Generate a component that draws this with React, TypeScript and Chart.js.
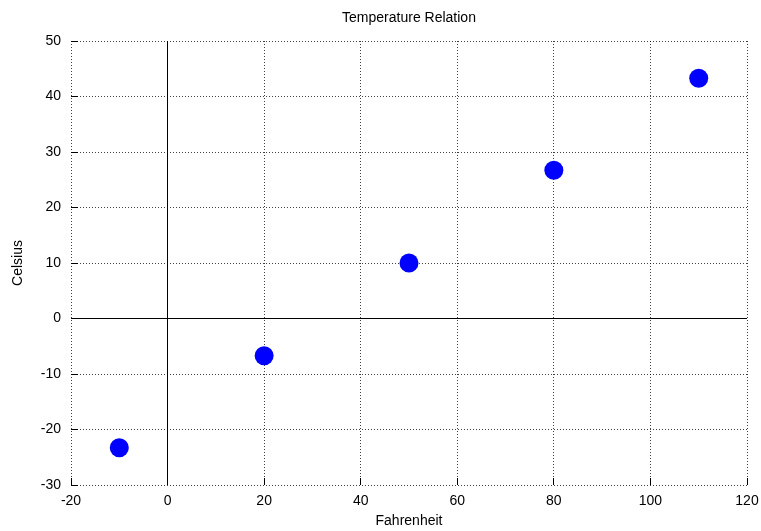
import React, { useEffect, useRef } from "react";
import { Chart, registerables } from "chart.js";

Chart.register(...registerables);

const fahrenheit = [-10, 20, 50, 80, 110];
const celsius = [-23.3, -6.7, 10, 26.7, 43.3];
const xTicks = [-20, 0, 20, 40, 60, 80, 100, 120];
const yTicks = [-30, -20, -10, 0, 10, 20, 30, 40, 50];
const titleText = "Temperature Relation";
const xTitle = "Fahrenheit";
const yTitle = "Celsius";

const FONT = "'Liberation Sans', Arial, sans-serif";

const align = (p: number) => Math.round(p - 0.5) + 0.5;

const gnuplotDecor = {
  id: "gnuplotDecor",
  beforeDatasetsDraw(chart: any) {
    const { ctx, chartArea, scales } = chart;
    const xs = scales.x;
    const ys = scales.y;
    ctx.save();
    ctx.strokeStyle = "#000";
    ctx.lineWidth = 1;
    ctx.setLineDash([]);
    const x0 = align(xs.getPixelForValue(0));
    const y0 = align(ys.getPixelForValue(0));
    ctx.beginPath();
    ctx.moveTo(x0, chartArea.top);
    ctx.lineTo(x0, chartArea.bottom);
    ctx.moveTo(chartArea.left, y0);
    ctx.lineTo(chartArea.right, y0);
    const tl = 7;
    for (const v of yTicks) {
      const py = align(ys.getPixelForValue(v));
      ctx.moveTo(chartArea.left, py);
      ctx.lineTo(chartArea.left + tl, py);
    }
    for (const v of xTicks) {
      const px = align(xs.getPixelForValue(v));
      ctx.moveTo(px, chartArea.bottom);
      ctx.lineTo(px, chartArea.bottom - tl);
    }
    ctx.stroke();
    ctx.restore();
  },
};

export default function App() {
  const ref = useRef<HTMLCanvasElement>(null);
  useEffect(() => {
    if (!ref.current) return;
    const chart = new Chart(ref.current, {
      type: "scatter",
      data: {
        datasets: [
          {
            label: "Temperature",
            data: fahrenheit.map((f, i) => ({ x: f, y: celsius[i] })),
            backgroundColor: "#0000ff",
            borderWidth: 0,
            pointRadius: 9.5,
            pointHoverRadius: 9.5,
          },
        ],
      },
      options: {
        animation: false,
        responsive: true,
        maintainAspectRatio: false,
        layout: { padding: { left: 0, top: 0, right: 14, bottom: 0 } },
        plugins: {
          legend: { display: false },
          tooltip: { enabled: false },
          title: {
            display: true,
            fullSize: false,
            text: titleText,
            color: "#000",
            font: { family: FONT, size: 14, weight: "normal" },
            padding: { top: 10, bottom: 14.2 },
          },
        },
        scales: {
          x: {
            type: "linear",
            min: -20,
            max: 120,
            afterBuildTicks: (s: any) => {
              s.ticks = xTicks.map((v) => ({ value: v }));
            },
            afterFit: (s: any) => {
              s.height = 46;
              s.paddingLeft = 0;
              s.paddingRight = 0;
            },
            border: { display: false, dash: [1, 2] },
            grid: {
              color: "rgba(0,0,0,0.75)",
              drawTicks: false,
              lineWidth: 1,
            },
            ticks: {
              color: "#000",
              padding: 8,
              font: { family: FONT, size: 14 },
            },
            title: {
              display: true,
              text: xTitle,
              color: "#000",
              font: { family: FONT, size: 14 },
              padding: 1.5,
            },
          },
          y: {
            type: "linear",
            min: -30,
            max: 50,
            afterBuildTicks: (s: any) => {
              s.ticks = yTicks.map((v) => ({ value: v }));
            },
            afterFit: (s: any) => {
              s.width = 71;
              s.paddingTop = 0;
              s.paddingBottom = 0;
            },
            border: { display: false, dash: [1, 2] },
            grid: {
              color: "rgba(0,0,0,0.75)",
              drawTicks: false,
              lineWidth: 1,
            },
            ticks: {
              color: "#000",
              padding: 10,
              font: { family: FONT, size: 14 },
            },
            title: {
              display: true,
              text: yTitle,
              color: "#000",
              font: { family: FONT, size: 14 },
              padding: 10,
            },
          },
        },
      },
      plugins: [gnuplotDecor],
    } as any);
    return () => chart.destroy();
  }, []);
  return (
    <div style={{ position: "fixed", left: 0, top: 0, width: 761, height: 531, background: "#fff" }}>
      <canvas ref={ref} />
    </div>
  );
}
